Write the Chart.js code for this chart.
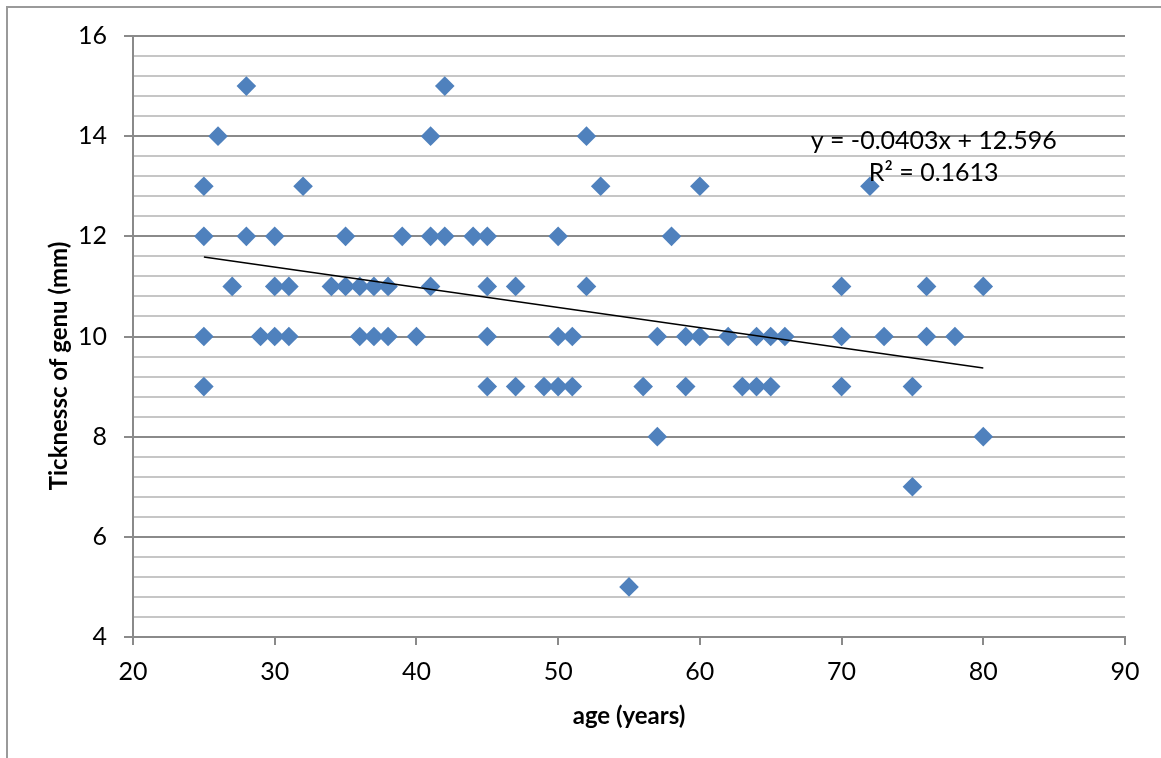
<!DOCTYPE html>
<html>
<head>
<meta charset="utf-8">
<script src="https://cdn.jsdelivr.net/npm/chart.js@4.4.1/dist/chart.umd.min.js"></script>
<style>
  html, body { margin: 0; padding: 0; background: #fff; }
  #wrap { width: 1161px; height: 758px; position: relative; }
</style>
</head>
<body>
<div id="wrap">
  <canvas id="chart" width="1161" height="758"></canvas>
</div>
<script>
// age (years) and thickness (mm), one row per thickness level
const ages = [
  28, 42,
  26, 41, 52,
  25, 32, 53, 60, 72,
  25, 28, 30, 35, 39, 41, 42, 44, 45, 50, 58,
  27, 30, 31, 34, 35, 36, 37, 38, 41, 45, 47, 52, 70, 76, 80,
  25, 29, 30, 31, 36, 37, 38, 40, 45, 50, 51, 57, 59, 60, 62, 64, 65, 66, 70, 73, 76, 78,
  25, 45, 47, 49, 50, 51, 56, 59, 63, 64, 65, 70, 75,
  57, 80,
  75,
  55
];
const thickness = [
  15, 15,
  14, 14, 14,
  13, 13, 13, 13, 13,
  12, 12, 12, 12, 12, 12, 12, 12, 12, 12, 12,
  11, 11, 11, 11, 11, 11, 11, 11, 11, 11, 11, 11, 11, 11, 11,
  10, 10, 10, 10, 10, 10, 10, 10, 10, 10, 10, 10, 10, 10, 10, 10, 10, 10, 10, 10, 10, 10,
  9, 9, 9, 9, 9, 9, 9, 9, 9, 9, 9, 9, 9,
  8, 8,
  7,
  5
];

// linear trend as printed on the chart
const slope = -0.0403;
const intercept = 12.596;
const eqLines = ['y = -0.0403x + 12.596', 'R² = 0.1613'];

const xTitle = 'age (years)';
const yTitle = 'Ticknessc of genu (mm)';

const FONT = 'Lato, "Open Sans", sans-serif';
Chart.defaults.font.family = FONT;
Chart.defaults.color = '#000';

const points = ages.map((a, i) => ({ x: a, y: thickness[i] }));
const xMin = Math.min(...ages), xMax = Math.max(...ages);
const trend = [
  { x: xMin, y: slope * xMin + intercept },
  { x: xMax, y: slope * xMax + intercept }
];

const isMajor = v => Math.abs(v / 2 - Math.round(v / 2)) < 1e-6;

const extras = {
  id: 'extras',
  beforeDraw(chart) {
    const ctx = chart.ctx;
    ctx.save();
    ctx.strokeStyle = '#9a9a9a';
    ctx.lineWidth = 2;
    ctx.beginPath();
    ctx.moveTo(1161, 7);
    ctx.lineTo(7, 7);
    ctx.lineTo(7, 758);
    ctx.stroke();
    ctx.restore();
  },
  afterDraw(chart) {
    const ctx = chart.ctx;
    const xs = chart.scales.x, ys = chart.scales.y;
    ctx.save();
    // y axis title
    ctx.translate(59, 366);
    ctx.rotate(-Math.PI / 2);
    ctx.font = 'bold 24px ' + FONT;
    ctx.fillStyle = '#000';
    ctx.textAlign = 'center';
    ctx.textBaseline = 'middle';
    ctx.fillText(yTitle, 0, 0);
    ctx.restore();

    // trend equation
    ctx.save();
    ctx.font = '25px ' + FONT;
    ctx.fillStyle = '#000';
    ctx.textAlign = 'center';
    ctx.textBaseline = 'middle';
    const cx = xs.getPixelForValue(76.5);
    ctx.fillText(eqLines[0], cx, ys.getPixelForValue(13.9));
    ctx.fillText(eqLines[1], cx, ys.getPixelForValue(13.26));
    ctx.restore();
  }
};

new Chart(document.getElementById('chart'), {
  type: 'scatter',
  data: {
    datasets: [
      {
        label: 'trend',
        data: trend,
        showLine: true,
        borderColor: '#000',
        borderWidth: 1.6,
        pointRadius: 0,
        order: 0
      },
      {
        label: 'thickness',
        data: points,
        pointStyle: 'rectRot',
        pointRadius: 9.8,
        pointBorderWidth: 0,
        backgroundColor: '#4F81BD',
        borderColor: '#4F81BD',
        order: 1
      }
    ]
  },
  options: {
    responsive: false,
    animation: false,
    layout: { padding: { left: 0, top: 36, right: 36, bottom: 0 } },
    plugins: {
      legend: { display: false },
      tooltip: { enabled: false }
    },
    scales: {
      x: {
        type: 'linear',
        min: 20,
        max: 90,
        afterFit: s => { s.height = 121; },
        ticks: { stepSize: 10, font: { size: 25 }, padding: 12, color: '#000' },
        grid: { drawOnChartArea: false, color: '#8a8a8a', lineWidth: 2, tickLength: 8 },
        border: { color: '#8a8a8a', width: 2 },
        title: {
          display: true,
          text: xTitle,
          font: { size: 24, weight: 'bold' },
          color: '#000',
          padding: { top: 0, bottom: 27 }
        }
      },
      y: {
        type: 'linear',
        min: 4,
        max: 16,
        afterFit: s => { s.width = 133; },
        ticks: {
          stepSize: 0.4,
          autoSkip: false,
          font: { size: 25 },
          padding: 17,
          color: '#000',
          callback: v => isMajor(v) ? String(Math.round(v)) : ''
        },
        grid: {
          color: c => isMajor(c.tick.value) ? '#8a8a8a' : '#c6c6c6',
          tickColor: c => isMajor(c.tick.value) ? '#8a8a8a' : 'rgba(0,0,0,0)',
          lineWidth: 2,
          tickLength: 9
        },
        border: { color: '#8a8a8a', width: 2 }
      }
    }
  },
  plugins: [extras]
});
</script>
</body>
</html>
